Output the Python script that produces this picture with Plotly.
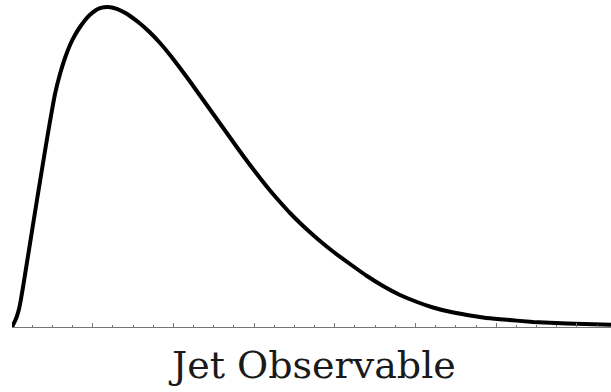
import plotly.graph_objects as go

# Curve (pixel readings converted to data units below)
px_x = [12, 13, 15, 17, 19, 21, 24, 28, 32, 36, 40, 44, 48, 52, 55, 60, 65, 70, 75, 80,
        85, 90, 95, 100, 104, 108, 112, 116, 120, 125, 130, 140, 150, 160, 170, 180, 190,
        200, 210, 220, 230, 240, 250, 260, 270, 280, 290, 300, 310, 320, 333, 350, 367,
        383, 400, 417, 433, 450, 467, 483, 500, 533, 567, 611]
px_y = [327, 325, 321, 316, 309, 299, 281, 256, 231, 206, 181.5, 157, 133, 110, 94, 74, 58, 45, 35, 27,
        20.2, 14.7, 10.7, 8.2, 7.2, 7.0, 7.5, 8.6, 10.2, 12.8, 16, 23.5, 32.5, 43, 55, 68, 81.5,
        95.5, 109.5, 123.5, 137.5, 151.5, 165, 178, 190.5, 202, 213, 223, 232.3, 241, 251.5, 264, 276,
        286, 295, 302, 307.5, 311.8, 315, 317.4, 319.2, 321.9, 323.6, 324.7]

x_obs = [(p - 12) / 80.7 for p in px_x]
density = [(327 - p) / 319.5 for p in px_y]

x_title = "Jet Observable"

fig = go.Figure()
fig.add_trace(go.Scatter(x=x_obs, y=density, mode="lines",
                         line=dict(color="black", width=4, shape="spline", smoothing=0.5),
                         hoverinfo="skip"))

fig.update_layout(
    width=611, height=392,
    margin=dict(l=12, r=0, t=0, b=65),
    paper_bgcolor="white", plot_bgcolor="white",
    showlegend=False,
    xaxis=dict(range=[0, 599 / 80.7], showgrid=False, zeroline=False,
               showline=True, linecolor="#777777", linewidth=1,
               ticks="inside", ticklen=4, tickcolor="#777777", tickwidth=1,
               dtick=1, tick0=0, showticklabels=False,
               minor=dict(ticks="inside", ticklen=2, dtick=0.25, tickcolor="#777777", showgrid=False)),
    yaxis=dict(range=[0, 327 / 319.5], visible=False, showgrid=False, zeroline=False),
    annotations=[dict(text=x_title, xref="paper", yref="paper", x=0.5, y=-(365 - 327) / 327,
                      xanchor="center", yanchor="middle", showarrow=False,
                      font=dict(family="DejaVu Serif", size=38, color="#1a1a1a"))],
)

fig.write_html("out.html")
